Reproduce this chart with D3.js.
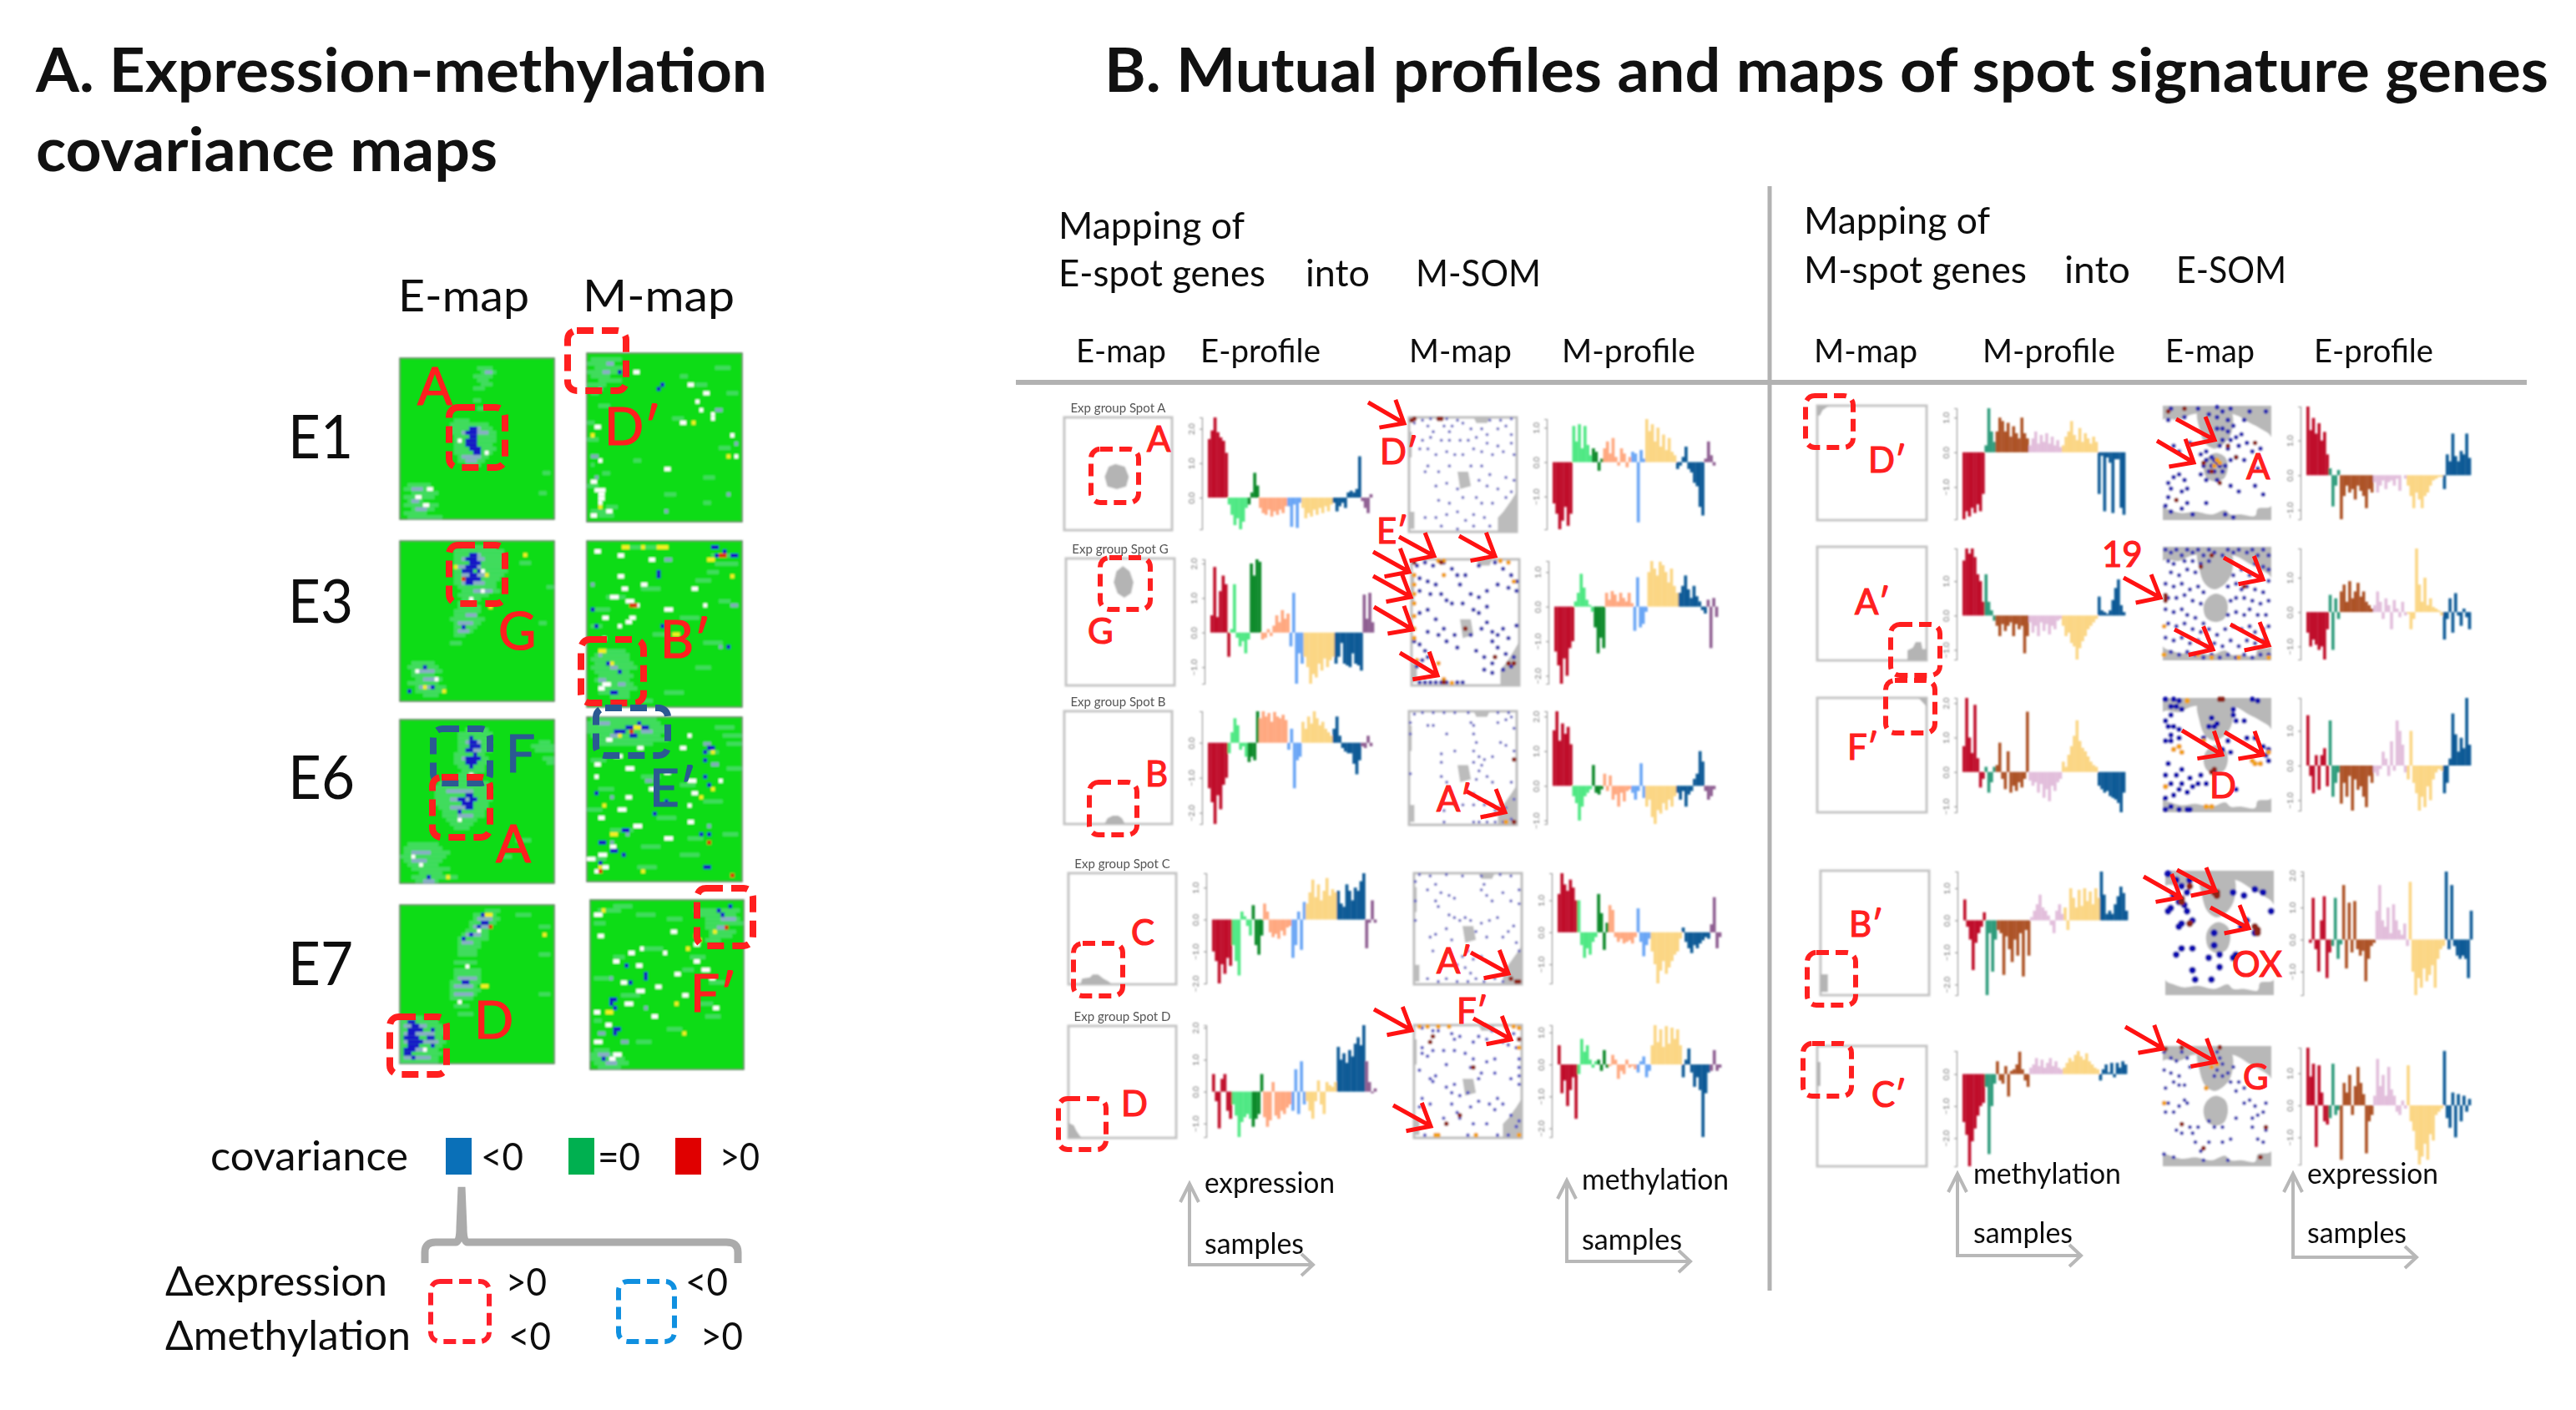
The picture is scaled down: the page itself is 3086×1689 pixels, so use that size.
<!DOCTYPE html>
<html><head><meta charset="utf-8">
<style>html,body{margin:0;background:#fff}svg{display:block}text{font-family:Lato,"Open Sans",sans-serif}</style>
<script src="https://cdn.jsdelivr.net/npm/d3@7"></script></head><body><script>
// ---------- categories ----------
const eGroupSizes=[7,7,4,10,5,11,10,4];
const eGroupColors=["#c0102c","#4fe884","#0a8a2c","#ffa880","#6aa6f5","#fbd684","#0a5a96","#8f5f92"];
const mGroupSizes=[8,4,12,12,13,10];
const mGroupColors=["#c0102c","#2f9c7c","#ad5226","#e2bedb","#fbd684","#0a5a96"];
const heatKinds=["mist","peri","blue","white","yellow","red"];
const heatColors=["#86dcc4","#9aa4e0","#1414c8","#ffffff","#f4f020","#e03010"];
const legendLabels=["<0","=0",">0"];
const legendColors=["#0a70b8","#00b050","#e00000"];
// ---------- profiles (left block, E-spot genes) ----------
const eProfA=[170,195,233,190,175,165,130,-20,-50,-80,-60,-92,-70,-30,-20,15,72,35,-30,-45,-50,-35,-55,-40,-50,-35,-45,-25,-25,-85,-20,-88,-15,-30,-60,-45,-55,-35,-50,-30,-45,-25,-40,-20,-15,-40,-25,-15,-30,15,20,15,25,120,-10,-30,-45,10];
const mProfA=[-120,-150,-195,-170,-130,-185,-150,105,60,110,40,105,50,20,40,30,-25,10,40,60,25,70,15,-10,40,25,-15,15,30,25,-175,35,10,125,90,110,60,100,45,80,35,70,30,20,-20,-10,15,45,-20,-30,-60,-70,-130,-155,10,60,20,-10];
const eProfG=[50,190,45,120,165,140,-70,10,140,-15,-40,-25,-60,-20,200,165,212,205,-20,-15,10,-10,20,50,30,65,40,55,-40,115,-148,-60,-90,-70,-100,-148,-120,-130,-90,-110,-75,-100,-80,-70,-90,-70,-30,-90,-95,-100,-60,-90,-95,-110,110,40,115,30];
const mProfG=[-130,-170,-223,-150,-200,-120,-100,15,40,95,55,20,5,-15,-60,-135,-90,-120,40,20,45,35,15,40,25,15,40,10,-70,85,-60,-50,-15,100,132,110,90,130,120,100,70,110,60,40,40,60,90,50,25,60,30,15,-10,-20,20,-120,25,-30];
const eProfB=[-130,-170,-232,-150,-190,-120,-100,-30,30,70,50,-20,-10,-40,-55,-40,-50,90,70,90,75,85,60,88,75,70,80,65,-20,40,-130,-50,-40,60,40,75,55,90,70,50,60,40,30,20,40,75,20,-15,-25,-30,-30,-60,-90,-50,-10,-15,20,-10];
const mProfB=[160,215,130,180,150,170,120,-30,-50,-100,-60,-30,-20,-10,60,-20,-25,-10,35,-15,30,-40,-25,-60,-20,-45,-15,-10,-20,-40,-15,65,-35,-60,-40,-90,-110,-70,-80,-50,-70,-40,-60,-30,-20,-40,-15,-60,-25,-15,20,35,100,70,-15,-40,-30,-10];
const eProfC=[-100,-130,-200,-140,-170,-120,-145,-80,-130,-175,25,10,-20,-50,45,-80,-110,-50,50,25,-40,-55,-45,-60,-35,-50,-25,-20,-120,-80,25,-95,55,50,85,125,70,110,60,90,130,75,95,85,90,50,40,110,90,60,100,90,120,145,-90,-10,60,-10];
const mProfC=[120,185,150,130,165,140,100,100,-40,-80,-50,-70,-30,-15,120,60,-55,30,85,70,-15,-30,-20,-35,-30,-25,-35,-15,75,-30,-75,-40,-20,-60,-100,-160,-120,-90,-130,-110,-90,-70,-60,-20,15,-30,-50,-65,-40,-50,-35,-25,-15,-20,25,110,-50,-15];
const eProfD=[55,-30,-115,40,55,-60,-85,-40,-75,-142,-95,-80,-70,-85,-110,-85,-70,55,-80,-110,-90,30,-75,-85,-60,-70,-50,-40,-60,70,-70,95,-40,-30,-60,-85,-30,35,-40,-70,30,20,15,30,140,100,120,90,130,110,150,170,145,208,95,30,-5,10];
const mProfD=[60,-90,-50,-130,-80,-40,-170,-30,80,40,60,15,-10,10,15,-20,45,-10,-5,30,15,-45,-20,-30,15,-10,-5,-15,-25,10,25,-40,-20,60,123,70,110,55,120,65,115,80,110,60,-40,15,50,-25,-70,-40,-80,-227,-90,-25,-20,45,-20,-10];
// ---------- profiles (right block, M-spot genes) ----------
const rmProfD=[-193,-170,-185,-160,-175,-150,-170,-120,20,127,60,30,60,100,90,60,85,45,75,55,40,100,55,40,20,40,60,25,50,30,55,25,45,20,35,15,20,45,60,90,50,35,70,30,55,40,25,45,30,-120,-10,-170,-15,-30,-175,-20,-20,-160,-180];
const reProfD=[198,130,165,120,150,100,125,60,20,-90,-30,15,-127,-60,-30,-50,-40,-70,-30,-45,-60,-95,-40,-50,-20,-50,-30,-15,-40,-20,-15,-30,-10,-45,0,-10,-30,-60,-95,-50,-70,-95,-60,-50,-30,-15,-10,-5,-5,-40,60,40,120,55,40,70,60,120,50];
const rmProfA=[160,195,180,195,170,120,100,40,120,40,15,-15,-30,-60,-25,-45,-30,-20,-60,-25,-40,-30,-110,-60,-20,-50,-30,-60,-20,-45,-25,-55,-30,-40,-15,-10,-30,-60,-50,-80,-90,-128,-95,-75,-60,-40,-30,-20,-10,55,15,10,5,15,45,80,105,30,10];
const reProfA=[-60,-100,-80,-95,-110,-100,-138,-50,50,-110,40,-20,60,80,30,90,40,60,85,45,60,30,20,10,20,60,30,-20,40,20,-50,35,10,-15,30,-10,-5,-50,-20,185,80,30,100,20,40,15,10,5,-10,-80,-20,40,-60,55,-10,-40,10,-15,-50];
const rmProfF=[75,215,100,55,195,40,-45,-20,15,-60,-30,15,20,85,-20,-50,60,-60,-40,-55,-30,-45,-20,175,-25,-40,-30,-60,-35,-75,-50,-85,-40,-55,-30,-20,30,15,50,75,105,150,90,70,60,45,30,20,15,-40,-50,-60,-55,-70,-75,-80,-90,-117,-60];
const reProfF=[145,-30,-80,30,-70,30,50,-60,130,-90,-50,-20,-110,-50,-90,-30,-130,-40,-70,-60,-90,-120,-30,-50,-20,-30,-10,40,20,-30,70,-15,130,100,60,-20,-40,100,-50,-80,-130,-90,-120,-60,-100,-40,-20,-10,-15,-80,-50,20,150,90,40,80,50,195,60];
const rmProfB=[65,-20,-60,-155,-70,-40,-20,25,-233,-40,-160,-60,-30,-40,-170,-50,-90,-130,-60,-110,-40,-175,-30,-110,10,30,50,80,40,30,15,-15,-40,30,50,20,40,-30,100,70,40,95,45,100,60,90,50,100,70,152,80,20,30,20,50,75,105,85,30];
const reProfB=[-10,130,-30,-100,60,135,-120,-40,-20,130,-60,-15,170,-90,115,-40,120,-30,-50,-35,-130,-60,-20,-10,90,170,60,40,100,20,110,60,30,15,50,-20,180,-100,-173,-120,-150,-90,-130,-110,-80,-150,-60,-30,-20,212,-30,170,-20,-50,-60,-50,-60,-120,90];
const rmProfC=[-150,-190,-288,-210,-170,-130,-100,-90,-40,-250,-100,-30,40,-20,-30,25,-70,10,15,30,70,15,-20,-40,20,30,50,25,45,20,35,50,25,40,20,15,20,35,50,40,60,72,55,45,65,40,30,20,15,-20,15,30,5,35,-10,35,20,40,30];
const reProfC=[180,90,130,-130,125,40,-50,-60,-40,130,-30,-15,-170,70,40,95,-30,60,120,70,35,-150,-50,-30,30,145,60,95,30,120,50,30,-20,-30,15,-10,125,-50,-80,-140,-185,-160,-120,-170,-90,-110,-30,-20,-10,170,-40,-70,40,-100,35,-50,30,-20,20];
// ---------- covariance heat maps: [row, firstColumn, lastColumn] on a 40x40 grid ----------
const e1Map={mist:[[2,20,23],[3,21,24],[4,19,23],[5,20,22],[6,21,23],[7,19,21],[15,14,17],[16,13,22],[17,13,23],[18,13,24],[19,14,24],[20,14,24],[21,14,23],[22,14,24],[23,14,23],[24,15,22],[25,15,21],[26,17,20],[10,19,20],[12,20,21],[31,2,7],[32,1,6],[33,3,9],[34,1,8],[35,2,5],[36,1,9],[37,3,8],[38,1,6],[39,2,10],[33,36,37],[28,37,38]],
peri:[[3,22,23],[32,3,5],[35,3,4],[37,4,6],[18,16,22],[24,16,20],[17,18,20],[25,17,19]],
blue:[[17,18,19],[18,17,19],[19,18,19],[20,17,19],[21,17,19],[22,18,20],[23,19,20]],
white:[[34,4,5],[36,6,7],[32,7,8],[20,15,15],[23,22,22]],yellow:[],red:[]};
const m1Map={mist:[[1,1,8],[2,0,6],[3,2,9],[4,0,7],[5,1,5],[6,3,8],[7,0,4],[9,1,2],[12,3,5],[16,0,1],[20,0,2],[26,1,1],[28,4,5],[31,0,2],[37,1,5],[38,3,6],[36,5,7],[3,33,36],[7,28,30],[15,22,24],[22,34,36],[29,30,32],[33,20,22],[9,36,38],[5,24,25],[35,30,31],[25,12,13]],
peri:[[2,5,6],[4,4,5],[8,3,3],[13,33,34],[21,38,38],[24,1,2],[29,2,2],[33,36,36],[37,20,20]],
blue:[[4,8,8],[7,19,19],[8,18,18]],
white:[[4,12,13],[7,26,27],[9,30,31],[11,28,28],[13,29,29],[14,32,32],[15,32,32],[16,24,25],[17,2,3],[19,37,37],[24,38,38],[25,3,3],[27,20,21],[30,1,2],[32,2,5],[33,3,4],[34,3,4],[35,3,3],[37,5,6],[38,1,2]],
yellow:[[19,1,1],[24,36,36],[36,3,3],[16,27,27]],red:[]};
const e3Map={mist:[[1,16,24],[2,14,26],[3,14,26],[4,14,26],[5,14,27],[6,14,26],[7,14,27],[8,14,26],[9,14,25],[10,14,24],[11,15,24],[12,16,25],[13,15,22],[14,16,20],[15,15,19],[16,15,20],[17,14,20],[18,14,19],[19,13,21],[20,14,20],[21,14,19],[22,14,18],[23,14,16],[25,13,15],[30,3,8],[31,2,9],[32,3,10],[33,3,8],[34,4,10],[35,2,9],[36,4,11],[37,4,10],[38,6,9],[11,38,39],[20,36,37],[5,31,33]],
peri:[[4,16,21],[6,15,20],[8,16,22],[10,16,21],[12,19,23],[18,17,19],[20,15,18],[22,15,17],[32,5,8],[34,6,9],[36,5,7],[3,19,20]],
blue:[[3,18,19],[4,17,19],[5,18,20],[6,17,19],[7,16,18],[7,20,20],[8,18,19],[9,17,20],[10,17,18],[36,8,8],[37,2,2],[31,6,6],[21,16,16]],
white:[[7,21,21],[12,21,21],[14,18,18],[32,4,4],[34,9,9]],
yellow:[[3,32,32],[8,22,22],[36,6,6],[37,11,11],[16,23,23],[6,14,14]],red:[[9,16,16]]};
const m3Map={mist:[[1,10,20],[3,32,36],[5,33,38],[7,31,33],[9,28,31],[11,14,18],[13,5,9],[16,2,5],[18,24,28],[20,1,3],[22,17,20],[24,30,34],[26,3,9],[27,2,10],[28,1,10],[29,2,11],[30,1,12],[31,2,10],[32,3,11],[33,2,10],[34,3,11],[35,4,12],[36,3,10],[37,6,10],[38,14,16],[30,28,31],[14,34,36],[36,20,24]],
peri:[[27,3,3],[30,6,7],[33,3,4],[34,8,9],[15,37,38],[25,34,34],[4,20,21],[10,1,1]],
blue:[[3,33,33],[2,35,35],[1,32,33],[7,18,18],[8,18,18],[16,1,1],[20,2,2],[31,8,8],[29,5,5],[36,6,7],[3,37,38],[20,19,19],[25,36,36]],
white:[[2,2,3],[4,16,17],[8,8,9],[10,14,15],[11,9,10],[13,6,8],[14,10,12],[15,12,13],[16,20,22],[18,4,5],[18,11,12],[19,10,11],[20,8,8],[23,4,4],[35,3,4],[34,4,6],[3,8,9],[11,27,28],[15,30,30]],
yellow:[[1,9,10],[1,14,14],[1,18,20],[4,31,32],[26,3,4],[29,6,6],[8,37,37],[22,22,23]],red:[[3,34,35],[15,11,12]]};
const e6Map={mist:[[2,17,22],[3,15,23],[4,15,22],[5,15,23],[6,15,22],[7,15,23],[8,14,21],[9,14,22],[10,14,22],[11,15,21],[12,16,21],[13,15,19],[14,11,20],[15,10,22],[16,9,22],[17,9,23],[18,9,22],[19,9,23],[20,9,22],[21,10,22],[22,11,21],[23,11,21],[24,12,19],[25,13,18],[26,14,17],[5,36,38],[6,34,39],[7,35,39],[9,37,39],[10,38,39],[30,2,9],[31,1,10],[32,1,12],[33,0,11],[34,1,10],[35,2,9],[36,3,12],[37,5,10],[38,3,14],[39,4,9],[29,30,33],[33,26,28]],
peri:[[5,17,20],[7,17,20],[9,16,19],[17,12,18],[19,13,19],[21,13,18],[23,15,18],[32,3,7],[34,3,6],[39,6,8]],
blue:[[4,18,18],[5,18,19],[6,18,20],[7,17,18],[8,19,19],[9,17,20],[10,17,19],[11,18,18],[18,17,18],[19,15,16],[19,18,19],[20,16,18],[21,17,18],[22,15,15],[38,7,7]],
white:[[13,18,18],[24,15,15],[33,3,3],[35,5,5]],yellow:[[38,12,12]],red:[]};
const m6Map={mist:[[0,1,17],[1,0,18],[2,0,19],[3,0,20],[4,1,18],[5,2,20],[6,3,16],[2,33,37],[4,35,39],[6,36,39],[8,30,33],[10,1,4],[12,36,39],[14,14,18],[17,3,6],[20,30,34],[22,0,3],[24,18,22],[27,6,11],[29,26,29],[31,14,18],[33,24,28],[34,1,4],[36,13,17],[28,35,38],[16,24,27]],
peri:[[1,3,5],[3,14,16],[4,6,8],[6,30,31],[11,32,33],[15,15,16],[19,6,6],[26,31,31],[28,10,10],[30,6,6]],
blue:[[2,10,11],[2,14,15],[3,7,9],[4,11,12],[1,13,13],[7,31,32],[8,30,30],[10,30,30],[14,30,30],[16,31,31],[18,2,2],[20,20,20],[27,9,10],[28,29,29],[30,3,4],[32,6,7],[33,9,9],[36,30,31],[35,3,3],[28,31,31],[23,17,17]],
white:[[5,5,6],[7,13,14],[9,7,9],[11,2,3],[12,10,12],[13,20,21],[14,2,2],[15,26,28],[17,16,18],[18,27,28],[19,10,11],[21,26,26],[22,8,10],[24,3,4],[25,26,27],[26,12,14],[29,20,22],[31,6,7],[33,3,5],[34,0,2],[36,4,5],[37,2,3],[7,24,25],[4,26,26],[15,34,34]],
yellow:[[2,12,13],[4,8,8],[8,32,32],[17,32,32],[19,29,29],[21,4,4],[28,6,7],[37,14,14],[36,3,3]],red:[[37,3,3],[38,37,37],[30,31,31],[3,11,11]]};
const e7Map={mist:[[1,22,25],[2,19,24],[3,19,25],[4,18,24],[5,18,23],[6,17,22],[7,16,22],[8,15,22],[9,15,20],[10,15,20],[11,15,19],[12,15,19],[14,14,19],[16,14,20],[17,14,20],[18,14,20],[19,13,20],[20,13,19],[21,13,20],[22,13,19],[23,13,18],[25,14,17],[27,15,18],[28,0,5],[29,0,9],[30,0,10],[31,0,11],[32,0,11],[33,0,10],[34,0,11],[35,0,10],[36,0,9],[37,0,10],[38,0,9],[39,0,9],[2,30,33],[5,36,38],[22,36,38],[12,36,38]],
peri:[[3,20,23],[5,19,22],[7,17,20],[9,16,18],[18,15,19],[20,14,18],[22,14,18],[30,1,6],[32,1,8],[34,1,9],[36,2,6],[38,1,7]],
blue:[[2,21,21],[4,21,22],[5,20,20],[7,18,18],[8,16,16],[19,16,17],[29,2,3],[30,3,4],[31,2,5],[32,2,3],[33,1,4],[34,2,5],[35,2,4],[36,1,3],[37,1,2],[38,3,3],[31,8,8],[33,7,8],[35,8,8]],
white:[[6,20,20],[15,17,17],[24,15,15],[36,6,6]],yellow:[[2,22,23],[20,21,22],[7,37,37]],red:[[5,23,23]]};
const m7Map={mist:[[1,6,10],[2,2,7],[3,12,16],[4,20,23],[5,1,3],[6,30,34],[7,31,37],[5,30,39],[4,30,38],[3,28,37],[2,27,38],[8,31,36],[9,30,33],[11,14,18],[13,26,29],[16,24,26],[18,1,4],[19,31,34],[22,8,12],[24,28,31],[27,30,33],[30,20,23],[33,12,15],[35,1,4],[36,0,7],[37,0,8],[38,1,9],[39,2,7],[28,1,2],[13,6,8]],
peri:[[4,34,37],[6,33,34],[18,5,5],[36,2,4],[38,4,6],[33,8,9],[25,14,14],[31,2,3]],
blue:[[2,33,33],[3,34,34],[1,36,36],[15,9,9],[17,14,14],[18,14,14],[19,10,10],[23,5,6],[24,5,5],[25,6,6],[30,6,7],[31,6,6],[37,3,3]],
white:[[3,1,3],[7,21,22],[8,2,3],[10,27,28],[11,13,13],[12,10,11],[12,19,19],[14,6,7],[14,27,28],[15,12,13],[16,29,31],[17,22,23],[18,31,32],[19,8,9],[20,17,18],[21,12,14],[22,24,25],[24,9,11],[25,32,33],[26,1,2],[27,16,17],[29,4,5],[33,1,3],[36,6,8],[37,5,6]],
yellow:[[7,32,32],[9,28,28],[26,4,5],[24,22,22],[2,3,3],[11,25,25],[31,24,24]],red:[[6,35,35],[8,27,27]]};
// ---------- SOM gene dots on 0..40 coordinates ----------
const mSomADots=[[2,2],[5,1],[8,.5],[14,.5],[18,1],[30,1],[34,1],[38,.5],[7,3],[9,5],[13,3],[15,5],[16,3],[20,2],[23,4],[27,4],[29,6],[33,4],[36,3],[38,6],[5,8],[8,7],[12,8],[15,8],[19,8],[22,8],[25,7],[29,9],[33,10],[38,9],[4,11],[7,11],[10,13],[14,12],[17,13],[20,13],[24,11],[27,12],[31,13],[35,12],[39,13],[7,17],[6,19],[11,19],[15,17],[23,17],[27,17],[30,20],[36,21],[39,22],[10,24],[14,23],[18,25],[26,22],[29,24],[33,25],[38,26],[11,29],[15,30],[20,28],[25,28],[27,30],[31,30],[36,28],[6,35],[10,35],[14,34],[18,33],[21,36],[24,34],[28,35],[12,38],[18,39],[24,38],[30,38]];
const mSomAOrange=[],mSomARed=[[1,1],[2,.5],[11,.5],[12,.5]];
const mSomGDots=[[2,2],[5,1],[8,2],[12,1],[15,3],[17,5],[20,5],[25,2],[31,1],[34,3],[37,5],[39,7],[3,6],[6,7],[9,8],[11,11],[13,13],[15,14],[7,11],[3,10],[18,8],[22,11],[25,12],[28,10],[32,8],[36,9],[39,10],[19,14],[23,16],[25,17],[28,15],[3,17],[6,16],[9,19],[12,22],[6,23],[10,24],[13,26],[16,24],[22,24],[26,22],[28,20],[30,23],[32,24],[34,22],[30,26],[32,28],[36,25],[39,21],[3,27],[5,29],[4,32],[2,34],[6,31],[17,28],[24,29],[27,31],[30,33],[35,30],[38,31],[37,34],[34,35],[27,35],[30,36],[3,39],[5,39],[7,39],[9,39],[11,39],[13,39],[17,39],[19,39],[1,26]];
const mSomGOrange=[[1,5],[1,8],[1,11],[1,14],[1,18],[1,22],[1,25],[10,.5],[12,.5],[33,.5],[36,1],[38,7],[12,5],[10,33],[12,38],[15,39.2],[2,32]];
const mSomGRed=[[1,1],[11,1],[31,31],[36,33],[38,33],[12,39],[20,22]];
const mSomBDots=[[2,1],[5,.5],[9,.5],[13,.5],[17,.5],[22,.5],[33,.5],[37,.5],[.5,4],[.5,8],[7,5],[9,5],[23,4],[24,5],[33,4],[14,8],[24,8],[25,11],[36,3],[38,2],[39,6],[34,11],[36,12],[39,14],[12,15],[17,14],[24,14],[26,16],[28,17],[31,16],[12,18],[24,18],[27,19],[.5,22],[12,23],[14,25],[26,21],[25,24],[29,23],[31,25],[38,25],[24,29],[26,31],[28,33],[31,33],[34,33],[13,35],[17,33],[20,33],[24,33],[32,35],[36,34],[39,31],[13,39],[24,39],[26,39],[29,39],[32,39],[35,39],[38,38]];
const mSomBOrange=[[36,39]],mSomBRed=[[39,39],[39,17]];
const mSomCDots=[[2,.5],[6,1],[12,.5],[18,1],[25,1],[32,.5],[36,1],[.5,3],[5,6],[8,4],[10,7],[8,10],[9,12],[13,8],[15,9],[26,4],[27,8],[25,6],[29,10],[33,7],[36,10],[.5,10],[.5,17],[39,6],[39,11],[13,15],[15,16],[17,17],[19,16],[21,17],[25,18],[28,17],[31,16],[6,23],[8,22],[12,20],[14,24],[23,21],[27,23],[33,23],[35,21],[37,19],[7,28],[13,28],[18,30],[20,28],[22,31],[25,30],[39,28],[38,25],[16,33],[19,34],[21,36],[9,39],[12,38],[16,39],[20,39],[23,38],[26,39],[30,38],[33,39],[5,38]];
const mSomCOrange=[],mSomCRed=[[38,39],[36,38],[39,39]];
const mSomDDots=[[3,1],[7,2],[9,2],[14,3],[15,5],[17,4],[22,6],[27,5],[29,2],[33,6],[35,7],[38,8],[39,12],[3,8],[7,9],[11,9],[15,9],[19,10],[22,12],[27,13],[30,12],[39,15],[3,10],[5,11],[12,14],[21,15],[25,17],[30,17],[39,18],[39,21],[2,16],[6,19],[7,20],[8,18],[15,21],[24,19],[36,19],[12,22],[14,24],[20,24],[3,26],[6,28],[2,29],[14,28],[17,25],[16,31],[21,29],[24,27],[28,28],[31,26],[30,30],[33,28],[11,33],[17,33],[22,35],[27,35],[39,34],[36,32],[38,36],[4,39],[20,39],[31,39],[35,39],[24,4],[37,3],[6,6]];
const mSomDOrange=[[2,.5],[5,.5],[9,.5],[13,.5],[34,.5],[37,.5],[39,1],[39,8],[9,39],[23,39],[39,39],[8,39]];
const mSomDRed=[[6,6],[22,15],[17,32],[12,35],[7,4],[39,5]];
const eSomADots=[[3,1],[13,1],[20,.5],[22,2],[25,1],[32,2],[38,2],[2,5],[8,4],[17,3],[20,4],[24,5],[30,5],[20,8],[22,8],[24,9],[26,7],[18,11],[22,12],[25,12],[27,11],[29,10],[21,14],[24,15],[28,14],[31,13],[33,16],[36,15],[4,14],[6,16],[10,13],[14,17],[16,16],[18,18],[19,19],[20,20],[16,19],[18,21],[21,21],[15,21],[23,21],[17,23],[19,23],[22,23],[25,19],[27,18],[30,19],[2,27],[4,25],[6,24],[8,26],[9,29],[7,30],[3,29],[2,32],[1,35],[3,37],[7,36],[9,34],[14,24],[16,26],[20,26],[25,28],[28,30],[34,28],[37,31],[35,22],[16,34],[11,38],[23,38],[26,39]];
const eSomAOrange=[[19,21],[20,19],[21,20]],eSomARed=[[15,20],[18,23],[24,14],[34,13],[27,18],[5,33],[21,27],[8,1],[2,2]];
const eSom19Dots=[[1,1],[3,2],[5,1],[7,3],[9,1],[11,2],[13,1],[15,3],[17,1],[19,2],[22,3],[24,1],[26,2],[28,1],[31,2],[33,1],[35,3],[37,1],[39,3],[2,5],[4,6],[8,5],[11,5],[14,6],[17,5],[34,6],[37,7],[39,8],[3,9],[6,10],[9,8],[12,9],[26,10],[29,8],[32,10],[36,10],[39,12],[1,13],[4,14],[7,13],[10,15],[13,14],[15,16],[24,14],[27,13],[29,15],[31,14],[34,15],[37,16],[2,18],[5,18],[8,17],[11,19],[14,20],[25,19],[27,18],[30,18],[33,19],[36,20],[39,19],[1,22],[4,23],[7,22],[9,24],[12,25],[15,27],[24,24],[27,23],[30,24],[32,22],[35,24],[38,24],[2,27],[5,28],[8,27],[11,29],[14,30],[17,29],[20,31],[23,29],[26,28],[29,29],[32,28],[34,30],[37,29],[39,28],[1,32],[4,33],[7,32],[10,34],[13,33],[16,35],[19,34],[22,35],[25,33],[28,35],[31,33],[34,34],[37,33],[3,37],[6,38],[9,37],[12,38],[15,39],[18,38],[21,39],[24,38],[27,39],[30,38],[33,39],[36,38],[39,38]];
const eSom19Orange=[[.5,28],[18,39],[39,39],[13,38],[28,39],[.5,38]],eSom19Red=[[1,17],[1,18],[1,19],[18,3],[30,14],[14,7]];
const eSomDDots=[[1,.5],[4,.5],[6,1],[3,3],[5,3],[7,4],[3,6],[1,8],[2,10],[4,10],[6,11],[3,13],[6,14],[1,15],[3,15],[18,7],[20,9],[17,10],[19,10],[26,6],[27,8],[26,4],[30,8],[33,.5],[35,1],[31,14],[22,18],[34,14],[37,17],[39,18],[38,20],[39,22],[2,23],[1,27],[3,30],[5,27],[7,25],[7,30],[10,28],[11,31],[13,30],[16,30],[14,27],[6,32],[9,33],[4,34],[1,35],[1,39],[3,38],[6,39],[9,39],[10,39],[24,15],[25,19],[15,14],[27,32],[19,26]];
const eSomDOrange=[[9,1],[6,17],[7,19],[4,18],[1,31],[33,22],[34,23],[36,23],[15,15],[39,19],[16,38],[18,38]],eSomDRed=[[21,.5],[22,.5],[19,25],[18,26]];
const eSomOXDots=[[1,1],[4,3],[6,5],[8,7],[9,3],[3,8],[5,10],[1,13],[2,12],[7,11],[8,13],[36,7],[33,6],[29,8],[25,7],[30,16],[28,18],[39,13],[6,17],[10,16],[5,18],[18,20],[33,20],[6,25],[10,25],[18,24],[4,27],[16,28],[20,27],[25,28],[26,27],[10,32],[20,31],[11,35],[17,35]];
const eSomOXOrange=[],eSomOXRed=[[6,10],[6,9],[9,5],[19,7],[19,8],[18,7],[9,17],[34,19],[34,20],[33,18]];
const eSomGDots=[[.5,2],[3,4],[5,5],[7,2],[9,4],[10,7],[.5,8],[3,9],[6,10],[4,12],[6,13],[8,13],[1,14],[20,2],[21,4],[22,6],[20,8],[19,10],[22,10],[24,9],[26,7],[25,12],[28,12],[30,14],[27,15],[8,18],[6,20],[4,22],[9,19],[2,19],[1,22],[30,19],[32,18],[34,20],[35,23],[37,22],[33,24],[38,19],[5,28],[7,29],[10,27],[11,29],[13,27],[17,25],[19,27],[22,27],[25,31],[27,24],[33,27],[35,31],[38,28],[37,32],[12,32],[17,32],[22,32],[14,35],[.5,36],[4,37],[15,38],[24,38]];
const eSomGOrange=[[.5,19],[18,7],[16,14],[.5,1],[20,6]],eSomGRed=[[1,1],[7,.5],[21,.5],[7,26],[15,34],[36,37],[38,27]];
// ---------- SOM regions (gray), 0..40 coordinates ----------
const mSomGrayRegions=[[[24,0],[30,0],[29,2],[25,2]],[[0,5],[1,5],[1,14],[0,14]],[[0,33],[2,33],[2,39],[0,39]],[[18,19],[22,19],[23,24],[19,25]],[[40,26],[38,29],[35,33],[33,35],[33,40],[40,40]]];
const eSomWhite=[[0,5],[6,5],[11,3],[26,3],[32,6],[36,8],[40,11],[40,35],[35,36],[34,38.5],[29,38],[25,38],[23,36.5],[18,38],[12,37],[7,37.5],[3,36.5],[0,35]];
const eSomBlobs=[[[13,2],[25,2],[25.5,9],[23,13],[19,15],[15.5,13],[13.5,8]],[[19.5,16.5],[23,18],[24,21.5],[22.5,25.5],[19,26.5],[16,25],[15,21],[16.5,18]]];
const blobA=[[19,16.5],[22.5,17.5],[24,21],[23,24.5],[19.5,25.5],[16,24.5],[15,21],[16.5,17.5]];
const blobG=[[21,2.4],[23.5,4],[24.9,7.5],[24,11],[21.5,12.4],[19,11],[17.6,7.5],[18.6,4]];
const blobB=[[15,40],[16,38],[18,37],[20,37],[21.5,38],[22.5,40]];
const blobC=[[4.5,40],[5,38],[8,37.5],[9,36.5],[11,36.5],[13,38],[15,39],[16,40]];
const blobD=[[0,34.6],[2,35.5],[3,37.5],[4.8,40],[0,40]];
const blobDp=[[0,0],[4.4,0],[2,1.5],[1,3.4],[0,3.4]];
const blobAp=[[33,40],[33,36.5],[35,35.5],[36,33.5],[38,33.5],[38.5,36],[40,36],[40,40]];
const blobFp=[[37,0],[40,0],[40,3],[38.5,1.5]];
const blobBp=[[0,33.3],[2.7,33.3],[2.7,39],[0,39]];
const blobCp=[[0,5.3],[1.2,5.3],[1.2,13.3],[0,13.3]];

// ---------- layout (pixels of the page) ----------
const RED="#ff1f1f",NAVY="#2b5a92";
const heatLayout=[[e1Map,479,664,429,622],[m1Map,703,889,423,625],[e3Map,479,664,648,840],[m3Map,703,889,648,847],[e6Map,479,664,862,1058],[m6Map,703,889,859,1056],[e7Map,479,664,1084,1274],[m7Map,707,891,1078,1281]];
const profileLayout=[
 [eProfA,"E",1447,1644,500,634],[mProfA,"E",1860,2055,502,634],[eProfG,"E",1450,1646,670,819],[mProfG,"E",1862,2058,672,819],
 [eProfB,"E",1447,1644,852,987],[mProfB,"E",1860,2055,852,987],[eProfC,"E",1452,1649,1046,1178],[mProfC,"E",1866,2062,1046,1178],
 [eProfD,"E",1452,1649,1228,1362],[mProfD,"E",1866,2062,1228,1362],
 [rmProfD,"M",2351,2546,489,622],[reProfD,"M",2763,2960,487,622],[rmProfA,"M",2351,2546,657,790],[reProfA,"M",2763,2960,657,790],
 [rmProfF,"M",2351,2546,836,973],[reProfF,"M",2763,2960,836,971],[rmProfB,"M",2352,2549,1044,1192],[reProfB,"M",2766,2962,1044,1192],
 [rmProfC,"M",2351,2548,1259,1397],[reProfC,"M",2763,2960,1255,1395]];
const spotBoxes=[[blobA,1275,1404,500,635,"Exp group Spot A"],[blobG,1277,1407,669,821,"Exp group Spot G"],[blobB,1275,1404,852,987,"Exp group Spot B"],[blobC,1280,1409,1046,1179,"Exp group Spot C"],[blobD,1280,1409,1229,1363,"Exp group Spot D"],
 [blobDp,2177,2308,486,623,""],[blobAp,2177,2308,655,791,""],[blobFp,2177,2308,836,973,""],[blobBp,2181,2311,1043,1192,""],[blobCp,2177,2308,1253,1397,""]];
const mSoms=[[mSomADots,mSomAOrange,mSomARed,1688,1817,500,637,1.9,"#6a6ac4"],[mSomGDots,mSomGOrange,mSomGRed,1691,1820,670,821,2.6,"#3c3cb0"],[mSomBDots,mSomBOrange,mSomBRed,1688,1817,852,988,1.9,"#6a6ac4"],[mSomCDots,mSomCOrange,mSomCRed,1694,1823,1046,1179,1.9,"#6a6ac4"],[mSomDDots,mSomDOrange,mSomDRed,1694,1823,1228,1363,2.2,"#5a5ac4"]];
const eSoms=[[eSomADots,eSomAOrange,eSomARed,2591,2721,486,623,2.8,"#2c2cb0"],[eSom19Dots,eSom19Orange,eSom19Red,2591,2721,655,791,2.6,"#4040b4"],[eSomDDots,eSomDOrange,eSomDRed,2591,2721,836,973,3.2,"#0c0cae"],[eSomOXDots,eSomOXOrange,eSomOXRed,2594,2724,1043,1192,4.2,"#0a0ab0"],[eSomGDots,eSomGOrange,eSomGRed,2591,2721,1253,1397,2.4,"#4040b4"]];
// dashed highlight boxes: x0,x1,y0,y1,colour,width
const dashBoxes=[[538,605,488,560,RED,8],[680,750,396,468,RED,8],[538,605,653,723,RED,8],[696,771,766,842,RED,8],[519,587,873,938,NAVY,8],[518,587,931,1003,RED,8],[714,800,848,905,NAVY,8],[467,535,1218,1287,RED,8],[835,902,1064,1133,RED,8],
 [1307,1364,538,602,RED,6],[1318,1378,668,730,RED,6],[1305,1362,937,1000,RED,6],[1286,1345,1130,1193,RED,6],[1268,1325,1316,1377,RED,6],
 [2163,2220,474,536,RED,6],[2265,2324,748,809,RED,6],[2259,2318,815,878,RED,6],[2165,2223,1141,1204,RED,6],[2160,2218,1250,1313,RED,6],
 [516,586,1535,1607,"#ff1f2a",6],[741,808,1535,1607,"#1090e0",6]];
// red arrows: x0,y0,x1,y1
const arrows=[[1639,482,1682,507],[1676,643,1718,666],[1748,642,1791,666],[1645,661,1688,685],[1645,690,1690,715],[1646,727,1692,754],[1677,782,1722,809],[1757,948,1803,973],[1762,1141,1807,1166],[1646,1209,1691,1234],[1765,1220,1810,1245],[1669,1324,1714,1349],
 [2607,502,2653,527],[2584,528,2628,554],[2544,692,2588,716],[2664,668,2711,694],[2605,754,2651,778],[2672,748,2718,773],[2614,875,2662,904],[2665,877,2711,904],[2568,1050,2612,1075],[2608,1042,2654,1067],[2648,1087,2694,1112],[2546,1230,2591,1256],[2608,1246,2654,1272]];
// letters: text,x,baseline,size,colour
const letters=[["A",500,485,62,RED],["D′",724,533,62,RED],["G",597,778,62,RED],["B′",791,788,62,RED],["F",606,925,62,NAVY],["E′",778,966,62,NAVY],["A",594,1033,62,RED],["D",568,1244,62,RED],["F′",827,1212,62,RED],
 ["A",1374,541,42,RED],["D′",1653,556,42,RED],["G",1303,771,42,RED],["E′",1649,651,42,RED],["B",1372,942,42,RED],["A′",1721,972,42,RED],["C",1355,1132,42,RED],["A′",1721,1166,42,RED],["D",1343,1337,42,RED],["F′",1745,1226,42,RED],
 ["D′",2238,566,42,RED],["A",2691,574,42,RED],["A′",2222,736,42,RED],["19",2518,679,42,RED],["F′",2213,910,42,RED],["D",2647,956,42,RED],["B′",2215,1122,42,RED],["OX",2674,1170,42,RED],["C′",2242,1326,42,RED],["G",2687,1305,42,RED]];
// plain labels: text,x,baseline,size,width,weight
const labels=[["A. Expression-methylation",43,110,72,876,700],["covariance maps",43,205,72,553,700],["B. Mutual profiles and maps of spot signature genes",1323,110,72,1730,700],
 ["E-map",477,373,52,157,400],["M-map",698,373,52,182,400],["E1",345,549,72,78,400],["E3",345,746,72,78,400],["E6",345,957,72,80,400],["E7",345,1180,72,78,400],
 ["Mapping of",1268,286,44,223,400],["E-spot genes",1268,343,44,248,400],["into",1564,343,44,77,400],["M-SOM",1696,343,44,150,400],
 ["Mapping of",2161,280,44,223,400],["M-spot genes",2161,339,44,267,400],["into",2473,339,44,79,400],["E-SOM",2607,339,44,132,400],
 ["E-map",1289,434,38,108,400],["E-profile",1438,434,38,144,400],["M-map",1688,434,38,123,400],["M-profile",1871,434,38,160,400],
 ["M-map",2173,434,38,124,400],["M-profile",2375,434,38,159,400],["E-map",2594,434,38,107,400],["E-profile",2772,434,38,143,400],
 ["expression",1443,1429,34,156,400],["samples",1443,1502,34,119,400],["methylation",1895,1425,34,176,400],["samples",1895,1497,34,120,400],
 ["methylation",2364,1418,34,177,400],["samples",2364,1489,34,119,400],["expression",2764,1418,34,157,400],["samples",2764,1489,34,119,400],
 ["covariance",252,1402,48,237,400],["<0",576,1402,46,51,400],["=0",716,1402,46,51,400],[">0",862,1402,46,48,400],
 ["Δexpression",198,1552,48,266,400],["Δmethylation",198,1617,48,294,400],[">0",606,1552,46,49,400],["<0",609,1617,46,51,400],["<0",821,1552,46,51,400],[">0",839,1617,46,51,400]];
// gray axis arrows: x, yTop, yCorner, xRight
const axisArrows=[[1425,1418,1515,1573],[1877,1414,1511,2025],[2345,1406,1504,2493],[2747,1406,1506,2895]];
const legendSwatches=[534,681,809],swatchWidth=31,swatchTop=1363,swatchBottom=1407;

// ---------- drawing ----------
const svg=d3.select("body").append("svg").attr("width",3086).attr("height",1689).attr("viewBox","0 0 3086 1689");
svg.append("rect").attr("width",3086).attr("height",1689).attr("fill","#fff");
const defs=svg.append("defs");
[["soft",.9],["softer",1.3],["fine",.5]].forEach(([id,s])=>defs.append("filter").attr("id",id).attr("x","-10%").attr("y","-10%").attr("width","120%").attr("height","120%").append("feGaussianBlur").attr("stdDeviation",s));
const domain40=[0,40];
const poly=(sx,sy,curve)=>d3.line().x(d=>sx(d[0])).y(d=>sy(d[1])).curve(curve||d3.curveLinearClosed);

// covariance heat maps
heatLayout.forEach(([map,x0,x1,y0,y1])=>{
  const g=svg.append("g").attr("filter","url(#softer)");
  const cols=d3.scaleBand().domain(d3.range(40)).range([x0,x1]);
  const rows=d3.scaleBand().domain(d3.range(40)).range([y0,y1]);
  g.append("rect").attr("x",x0).attr("y",y0).attr("width",x1-x0).attr("height",y1-y0).attr("fill","#0fdc14").attr("stroke","#5a7a5a").attr("stroke-width",1.5);
  heatKinds.forEach((kind,i)=>{
    g.selectAll(null).data(map[kind]).join("rect")
      .attr("x",d=>cols(d[1])).attr("y",d=>rows(d[0]))
      .attr("width",d=>cols.bandwidth()*(1+(d[2]-d[1])*(kind==="white"?.6:1))).attr("height",rows.bandwidth())
      .attr("fill",heatColors[i]).attr("opacity",kind==="mist"?.42:kind==="peri"?.8:1);
  });
});

// profile bar charts
profileLayout.forEach(([values,kind,x0,x1,top,bottom])=>{
  const sizes=kind==="E"?eGroupSizes:mGroupSizes, colors=kind==="E"?eGroupColors:mGroupColors;
  const colorOf=[]; sizes.forEach((n,i)=>{for(let k=0;k<n;k++)colorOf.push(colors[i]);});
  const x=d3.scaleBand().domain(d3.range(values.length)).range([x0,x1]);
  const y=d3.scaleLinear().domain(d3.extent(values)).range([bottom,top]);
  const g=svg.append("g").attr("filter","url(#soft)");
  g.selectAll("rect").data(values).join("rect")
    .attr("x",(d,i)=>x(i)).attr("width",x.bandwidth()+.3)
    .attr("y",d=>Math.min(y(d),y(0))).attr("height",d=>Math.abs(y(d)-y(0)))
    .attr("fill",(d,i)=>colorOf[i]);
  const ax=svg.append("g").attr("filter","url(#soft)").attr("transform",`translate(${x0-7},0)`)
    .call(d3.axisLeft(y).ticks(4).tickSize(3).tickPadding(6).tickFormat(d=>d3.format(".1f")(d/100)));
  ax.selectAll("path,line").attr("stroke","#999").attr("stroke-width",1.2);
  ax.selectAll("text").attr("fill","#777").attr("font-size",10).attr("text-anchor","middle").attr("dy",0).attr("transform",function(){const t=d3.select(this);return `rotate(-90 ${t.attr("x")} ${t.attr("y")||0})`;});
});

// spot outline boxes
spotBoxes.forEach(([blob,x0,x1,y0,y1,title])=>{
  const sx=d3.scaleLinear().domain(domain40).range([x0,x1]), sy=d3.scaleLinear().domain(domain40).range([y0,y1]);
  const g=svg.append("g").attr("filter","url(#soft)");
  g.append("rect").attr("x",x0).attr("y",y0).attr("width",x1-x0).attr("height",y1-y0).attr("fill","#fff").attr("stroke","#c4c4c4").attr("stroke-width",3);
  g.append("path").attr("d",poly(sx,sy)(blob)).attr("fill","#b4b4b4");
  if(title) svg.append("text").attr("x",(x0+x1)/2).attr("y",y0-6).attr("text-anchor","middle").attr("font-size",15).attr("fill","#555").attr("filter","url(#fine)").text(title);
});

function drawDots(g,sx,sy,dots,orange,red,r,col){
  g.selectAll(null).data(dots).join("circle").attr("cx",d=>sx(d[0])).attr("cy",d=>sy(d[1])).attr("r",r).attr("fill",col);
  g.selectAll(null).data(orange).join("circle").attr("cx",d=>sx(d[0])).attr("cy",d=>sy(d[1])).attr("r",Math.max(r,2.8)).attr("fill","#f0a018");
  g.selectAll(null).data(red).join("circle").attr("cx",d=>sx(d[0])).attr("cy",d=>sy(d[1])).attr("r",Math.max(r,2.8)).attr("fill","#8e2418");
}
// M-SOM maps (white ground)
mSoms.forEach(([dots,orange,red,x0,x1,y0,y1,r,col])=>{
  const sx=d3.scaleLinear().domain(domain40).range([x0,x1]), sy=d3.scaleLinear().domain(domain40).range([y0,y1]);
  const g=svg.append("g").attr("filter","url(#soft)");
  g.append("rect").attr("x",x0).attr("y",y0).attr("width",x1-x0).attr("height",y1-y0).attr("fill","#fff").attr("stroke","#bdbdbd").attr("stroke-width",3);
  g.selectAll(null).data(mSomGrayRegions).join("path").attr("d",poly(sx,sy)).attr("fill","#bcbcbc");
  drawDots(g,sx,sy,dots,orange,red,r,col);
});
// E-SOM maps (gray ground with a white area)
eSoms.forEach(([dots,orange,red,x0,x1,y0,y1,r,col])=>{
  const sx=d3.scaleLinear().domain(domain40).range([x0,x1]), sy=d3.scaleLinear().domain(domain40).range([y0,y1]);
  const g=svg.append("g").attr("filter","url(#soft)");
  g.append("rect").attr("x",x0).attr("y",y0).attr("width",x1-x0).attr("height",y1-y0).attr("fill","#b8b8b8");
  g.append("path").attr("d",poly(sx,sy,d3.curveCatmullRomClosed)(eSomWhite)).attr("fill","#fff");
  g.selectAll(null).data(eSomBlobs).join("path").attr("d",poly(sx,sy,d3.curveCatmullRomClosed)).attr("fill","#b8b8b8");
  drawDots(g,sx,sy,dots,orange,red,r,col);
});

// separators
svg.append("line").attr("x1",1217).attr("x2",3027).attr("y1",458).attr("y2",458).attr("stroke","#b2b2b2").attr("stroke-width",6);
svg.append("line").attr("x1",2120).attr("x2",2120).attr("y1",223).attr("y2",1546).attr("stroke","#b2b2b2").attr("stroke-width",5);

// gray axis arrows
axisArrows.forEach(([x,yt,yc,xr])=>{
  const g=svg.append("g").attr("fill","none").attr("stroke","#b8b8b8").attr("stroke-width",4);
  g.append("path").attr("d",`M${x-11},${yt+22}L${x},${yt}L${x+11},${yt+22}M${x},${yt}V${yc}H${xr}M${xr-14},${yc-13}L${xr},${yc}L${xr-14},${yc+13}`);
});

// legend swatches and bracket
svg.selectAll(".sw").data(legendColors).join("rect").attr("x",(d,i)=>legendSwatches[i]).attr("width",swatchWidth).attr("y",swatchTop).attr("height",swatchBottom-swatchTop).attr("fill",d=>d);
svg.append("path").attr("d","M509,1513V1500Q509,1488 522,1488H546Q551,1488 551,1470L553,1422L555,1470Q555,1488 560,1488H870Q884,1488 884,1500V1513").attr("fill","none").attr("stroke","#ababab").attr("stroke-width",9);

// dashed boxes
svg.selectAll(".dash").data(dashBoxes).join("rect").attr("x",d=>d[0]).attr("width",d=>d[1]-d[0]).attr("y",d=>d[2]).attr("height",d=>d[3]-d[2]).attr("rx",11)
  .attr("fill","none").attr("stroke",d=>d[4]).attr("stroke-width",d=>d[5]).attr("stroke-dasharray",d=>d[5]>6?"20,10":"15,8");

// arrows
arrows.forEach(([x0,y0,x1,y1])=>{
  const a=Math.atan2(y1-y0,x1-x0), b=20, L=30;
  const h1=[x1-L*Math.cos(a-Math.PI*b/90),y1-L*Math.sin(a-Math.PI*b/90)], h2=[x1-L*Math.cos(a+Math.PI*b/90),y1-L*Math.sin(a+Math.PI*b/90)];
  svg.append("path").attr("d",`M${x0},${y0}L${x1},${y1}M${h1}L${x1},${y1}L${h2}`).attr("fill","none").attr("stroke","#ff1212").attr("stroke-width",5);
});

// text
labels.forEach(([t,x,y,size,w,weight])=>{
  const el=svg.append("text").attr("x",x).attr("y",y).attr("font-size",size).attr("font-weight",weight).attr("fill","#111")
    .attr("textLength",w).attr("lengthAdjust","spacingAndGlyphs").text(t);
  if(weight<700) el.attr("filter","url(#fine)");
});
letters.forEach(([t,x,y,size,c])=>{
  svg.append("text").attr("x",x).attr("y",y).attr("font-size",size).attr("fill",c).attr("stroke",c).attr("stroke-width",1.2).text(t);
});
</script></body></html>
